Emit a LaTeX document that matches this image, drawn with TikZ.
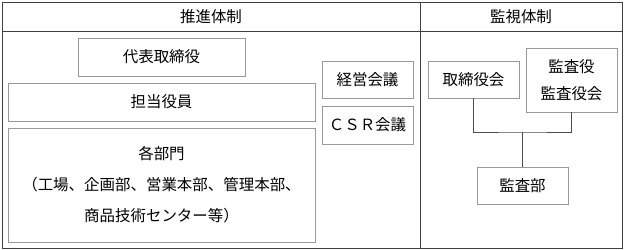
\documentclass[tikz,border=0pt]{standalone}
\usepackage{fontspec}
\newfontfamily\jpfont{Noto Sans CJK JP}
\usepackage{tikz}
\usetikzlibrary{positioning}

\begin{document}
\begin{tikzpicture}[
  x=0.25mm, y=-0.25mm,
  every node/.style={font=\jpfont\fontsize{11}{14}\selectfont, text=black},
  frame/.style={draw=black!75, line width=0.6pt},
  box/.style={draw=black!40, line width=0.6pt, inner sep=0pt},
  link/.style={draw=black!70, line width=0.6pt},
  head/.style={inner sep=0pt}
]
\useasboundingbox (0,0) rectangle (625,250);

%% Outer frame and header
\draw[frame] (2,2) rectangle (622,248);
\draw[frame] (2,31) -- (622,31);
\draw[frame] (420,2) -- (420,248);
\node[head](suishin) at (211,16.5) {推進体制};
\node[head](kanshi)  at (521,16.5) {監視体制};

%% Promotion side
\node[box, minimum width=41.75mm, minimum height=9.5mm](daihyo) at (161.5,57) {代表取締役};
\node[box, minimum width=76.75mm, minimum height=9.5mm](tanto) at (161.5,102) {担当役員};
\node[box, minimum width=76.75mm, minimum height=28.5mm, align=center,
      font=\jpfont\fontsize{11}{22}\selectfont](bumon) at (161.5,185)
  {各部門\\（工場、企画部、営業本部、管理本部、\\商品技術センター等）};
\node[box, minimum width=22.75mm, minimum height=9.25mm](keiei) at (367.5,79.5) {経営会議};
\node[box, minimum width=22.75mm, minimum height=9.5mm](csr) at (367.5,125) {ＣＳＲ会議};

%% Monitoring side
\node[box, minimum width=22.75mm, minimum height=9.25mm](torishimari) at (473.5,79.5) {取締役会};
\node[box, minimum width=22.75mm, minimum height=16mm, align=center,
      font=\jpfont\fontsize{11}{19}\selectfont](kansayaku) at (571.5,80) {監査役\\監査役会};
\node[box, minimum width=22.75mm, minimum height=9.25mm](kansabu) at (522.5,185.5) {監査部};

\coordinate (junc) at (522.5,132);
\draw[link] (torishimari.south) |- (junc) -| (kansayaku.south);
\draw[link] (junc) -- (kansabu.north);
\end{tikzpicture}
\end{document}
